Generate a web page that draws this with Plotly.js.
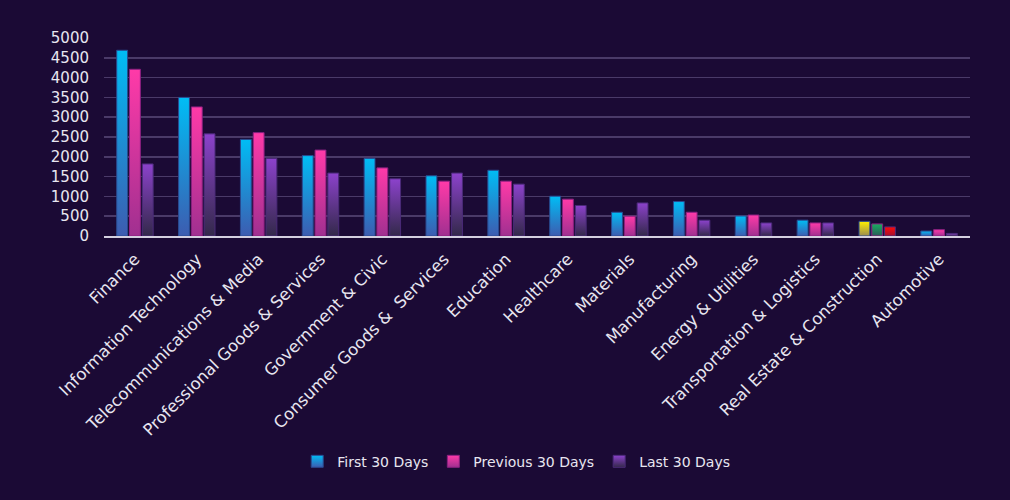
<!DOCTYPE html>
<html>
<head>
<meta charset="utf-8">
<script src="https://cdn.plot.ly/plotly-3.0.1.min.js"></script>
<style>
html,body{margin:0;padding:0;background:#1b0a35;}
#chart{width:1010px;height:500px;}
</style>
</head>
<body>
<div id="chart"></div>
<script>
const categories = ["Finance","Information Technology","Telecommunications & Media","Professional Goods & Services","Government & Civic","Consumer Goods &  Services","Education","Healthcare","Materials","Manufacturing","Energy & Utilities","Transportation & Logistics","Real Estate & Construction","Automotive"];
const first30 = [4690,3500,2440,2030,1960,1520,1660,1005,600,870,505,400,370,125];
const previous30 = [4210,3260,2610,2170,1720,1385,1385,930,500,600,530,330,305,160];
const last30 = [1820,2580,1960,1590,1445,1590,1310,770,835,400,330,330,230,65];
const seriesNames = ["First 30 Days","Previous 30 Days","Last 30 Days"];
const tickVals = [0,500,1000,1500,2000,2500,3000,3500,4000,4500,5000];

const baseColors = ["#1a9ee0","#e834a8","#6a3aa8"];
const specialColors = ["#d8c820","#1c9a5a","#e01020"];
const specialIndex = categories.indexOf("Real Estate & Construction");

const gradients = {
  g0:["#00bdf5","#3d5cb0"],
  g1:["#ff3aa8","#a03090"],
  g2:["#8c42cc","#33294a"],
  s0:["#fff000","#9a8a50"],
  s1:["#18b060","#2a5a58"],
  s2:["#ff0a0a","#a01030"]
};
const outline = ["#2a4a90","#8a2080","#4a2a78"];

const series = [first30, previous30, last30];
const traces = series.map((vals, i) => ({
  type: "bar",
  name: seriesNames[i],
  x: categories,
  y: vals,
  marker: {
    color: categories.map((c, j) => j === specialIndex ? specialColors[i] : baseColors[i]),
    line: {color: outline[i], width: 1}
  },
  hoverinfo: "x+y+name"
}));

const fontFam = "'DejaVu Sans', sans-serif";
const layout = {
  width: 1010, height: 500,
  paper_bgcolor: "#1b0a35",
  plot_bgcolor: "#1b0a35",
  margin: {l: 104, r: 40, t: 38, b: 264},
  barmode: "group",
  bargap: 0.38,
  bargroupgap: 0.15,
  font: {family: fontFam, color: "#e8e6f0", size: 14},
  xaxis: {
    tickangle: -45,
    tickfont: {family: fontFam, size: 16.5, color: "#e8e6f0"},
    showgrid: false,
    showline: true,
    linecolor: "#d4d0e0",
    linewidth: 2,
    ticks: "outside",
    ticklen: 5,
    tickcolor: "rgba(0,0,0,0)",
    automargin: false
  },
  yaxis: {
    range: [0, 5000],
    tickvals: tickVals,
    ticktext: tickVals.map(String),
    tickfont: {family: fontFam, size: 15, color: "#e8e6f0"},
    gridcolor: "#4a3a68",
    gridwidth: 1.5,
    zeroline: false,
    showline: false,
    ticks: "",
    ticklabelstandoff: 14,
    automargin: false
  },
  showlegend: true,
  legend: {
    orientation: "h",
    x: 0.476, xanchor: "center",
    y: -1.14, yanchor: "middle",
    font: {family: fontFam, size: 14, color: "#e8e6f0"},
    bgcolor: "rgba(0,0,0,0)",
    itemwidth: 30,
    tracegroupgap: 0
  }
};

Plotly.newPlot("chart", traces, layout, {displayModeBar: false, staticPlot: true}).then(gd => {
  const svg = gd.querySelector("svg.main-svg");
  const ns = "http://www.w3.org/2000/svg";
  let defs = svg.querySelector("defs");
  if (!defs) { defs = document.createElementNS(ns, "defs"); svg.insertBefore(defs, svg.firstChild); }
  Object.keys(gradients).forEach(id => {
    const lg = document.createElementNS(ns, "linearGradient");
    lg.setAttribute("id", "grad_" + id);
    lg.setAttribute("x1", "0"); lg.setAttribute("y1", "0");
    lg.setAttribute("x2", "0"); lg.setAttribute("y2", "1");
    [[0, gradients[id][0]], [1, gradients[id][1]]].forEach(([o, c]) => {
      const st = document.createElementNS(ns, "stop");
      st.setAttribute("offset", o);
      st.setAttribute("stop-color", c);
      lg.appendChild(st);
    });
    defs.appendChild(lg);
  });
  const traceGroups = gd.querySelectorAll(".barlayer .trace");
  traceGroups.forEach((tg, i) => {
    tg.querySelectorAll(".point path").forEach((p, j) => {
      const id = j === specialIndex ? "s" + i : "g" + i;
      p.style.fill = "url(#grad_" + id + ")";
    });
  });
  gd.querySelectorAll(".legend .traces").forEach((lt, i) => {
    lt.querySelectorAll(".legendpoints path").forEach(p => {
      p.style.fill = "url(#grad_g" + i + ")";
    });
  });
});
</script>
</body>
</html>
